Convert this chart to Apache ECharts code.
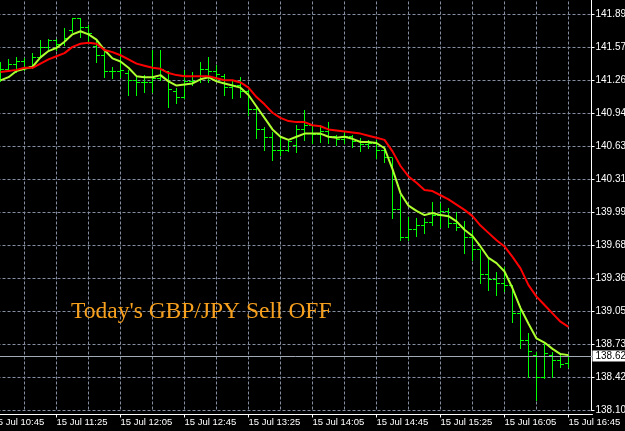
<!DOCTYPE html>
<html><head><meta charset="utf-8">
<style>html,body{margin:0;padding:0;background:#000;}#c{width:625px;height:431px;}</style>
<script src="https://cdn.jsdelivr.net/npm/echarts@6/dist/echarts.min.js"></script>
</head><body><div id="c"></div>
<script>
// ---------- data ----------
const dateLabel = '15 Jul';
const times = ['10:45','10:50','10:55','11:00','11:05','11:10','11:15','11:20','11:25','11:30','11:35','11:40','11:45','11:50','11:55',
'12:00','12:05','12:10','12:15','12:20','12:25','12:30','12:35','12:40','12:45','12:50','12:55',
'13:00','13:05','13:10','13:15','13:20','13:25','13:30','13:35','13:40','13:45','13:50','13:55',
'14:00','14:05','14:10','14:15','14:20','14:25','14:30','14:35','14:40','14:45','14:50','14:55',
'15:00','15:05','15:10','15:15','15:20','15:25','15:30','15:35','15:40','15:45','15:50','15:55',
'16:00','16:05','16:10','16:15','16:20','16:25','16:30','16:35','16:40','16:45','16:50','16:55','17:00'];
const firstBarTime = '10:50';

const open = [141.28,141.36,141.41,141.44,141.39,141.48,141.57,141.64,141.61,141.74,
141.85,141.77,141.58,141.50,141.34,141.34,141.33,141.26,141.24,141.24,
141.28,141.34,141.15,141.10,141.25,141.26,141.36,141.34,141.30,141.19,
141.21,141.15,140.98,140.79,140.71,140.59,140.59,140.64,140.79,140.83,
140.74,140.77,140.72,140.69,140.72,140.67,140.65,140.66,140.59,140.52,
140.02,139.76,139.83,139.87,139.90,139.97,140.00,139.89,139.85,139.76,
139.64,139.40,139.35,139.32,139.30,139.03,138.77,138.63,138.42,138.63,
138.58,138.55];
const high = [141.44,141.46,141.48,141.47,141.52,141.65,141.66,141.66,141.76,141.86,
141.86,141.79,141.65,141.55,141.39,141.57,141.36,141.29,141.31,141.55,
141.55,141.35,141.19,141.36,141.34,141.44,141.48,141.41,141.32,141.26,
141.29,141.17,141.01,140.81,140.77,140.72,140.69,140.83,140.98,140.83,
140.83,140.86,140.74,140.77,140.74,140.71,140.69,140.69,140.62,140.52,
140.16,139.95,139.94,139.94,140.10,140.09,140.04,140.00,139.91,139.83,
139.64,139.56,139.43,139.47,139.30,139.10,138.84,138.66,138.75,138.66,
138.63,138.63];
const low = [141.25,141.35,141.34,141.36,141.38,141.48,141.55,141.55,141.60,141.72,
141.67,141.63,141.44,141.29,141.28,141.29,141.12,141.12,141.15,141.15,
141.26,141.00,141.04,141.09,141.22,141.24,141.24,141.26,141.12,141.09,
141.10,140.93,140.71,140.59,140.50,140.55,140.58,140.57,140.69,140.66,
140.67,140.66,140.64,140.66,140.62,140.58,140.61,140.52,140.48,139.94,
139.73,139.73,139.77,139.80,139.88,139.86,139.86,139.83,139.61,139.54,
139.32,139.25,139.21,139.24,138.95,138.70,138.42,138.20,138.41,138.42,
138.52,138.52];
const close = [141.36,141.41,141.44,141.38,141.48,141.57,141.64,141.60,141.66,141.85,
141.77,141.71,141.50,141.34,141.34,141.35,141.26,141.24,141.24,141.28,
141.36,141.17,141.10,141.25,141.25,141.36,141.34,141.32,141.19,141.21,
141.15,140.98,140.79,140.71,140.59,140.59,140.67,140.79,140.83,140.74,
140.77,140.72,140.69,140.72,140.67,140.65,140.66,140.59,140.52,140.02,
139.76,139.83,139.87,139.90,139.97,140.00,139.89,139.85,139.76,139.64,
139.40,139.35,139.32,139.30,139.03,138.77,138.66,138.42,138.65,138.58,
138.54,138.62];
const maFast = [141.26,141.29,141.35,141.37,141.39,141.48,141.54,141.57,141.63,141.70,
141.73,141.70,141.65,141.55,141.47,141.44,141.38,141.30,141.29,141.29,
141.31,141.25,141.21,141.22,141.23,141.27,141.29,141.25,141.23,141.21,
141.19,141.12,141.01,140.90,140.79,140.72,140.69,140.72,140.75,140.75,
140.75,140.72,140.71,140.72,140.70,140.67,140.67,140.66,140.61,140.41,
140.18,140.06,140.01,139.97,139.99,139.97,139.96,139.91,139.83,139.77,
139.67,139.56,139.51,139.43,139.27,139.08,138.93,138.79,138.75,138.69,
138.64,138.63];
const maSlow = [141.34,141.35,141.36,141.38,141.38,141.42,141.46,141.49,141.52,141.58,
141.61,141.62,141.61,141.55,141.53,141.50,141.46,141.42,141.40,141.38,
141.37,141.33,141.31,141.30,141.30,141.30,141.30,141.28,141.26,141.26,
141.24,141.19,141.10,141.03,140.95,140.90,140.87,140.86,140.86,140.83,
140.82,140.79,140.78,140.77,140.76,140.75,140.73,140.71,140.69,140.58,
140.44,140.34,140.28,140.21,140.20,140.16,140.12,140.07,140.02,139.96,
139.87,139.80,139.73,139.67,139.57,139.46,139.30,139.19,139.11,139.03,
138.95,138.90];
const yTickLabels = ['138.10','138.42','138.73','139.05','139.36','139.68','139.99','140.31','140.63','140.94','141.26','141.57','141.89'];
const bidPrice = 138.62;
const annotation = "Today's GBP/JPY Sell OFF";

// ---------- chart ----------
const pLo = parseFloat(yTickLabels[0]);
const pHi = parseFloat(yTickLabels[yTickLabels.length - 1]);
const step = (pHi - pLo) / (yTickLabels.length - 1);
const toU = p => (p - pLo) / step;
const off = times.indexOf(firstBarTime);

const barData = open.map((o, i) => [i + off, toU(o), toU(high[i]), toU(low[i]), toU(close[i])]);
const fastData = maFast.map((v, i) => [i + off, toU(v)]);
const slowData = maSlow.map((v, i) => [i + off, toU(v)]);

const axisFont = "'Liberation Sans',Arial,sans-serif";
const gridColor = '#8490a2';
const barColor = '#00ff00';

function crisp(v) { return Math.round(v - 0.5) + 0.5; }

function renderOHLC(params, api) {
  const x = api.value(0);
  const pO = api.coord([x, api.value(1)]);
  const pH = api.coord([x, api.value(2)]);
  const pL = api.coord([x, api.value(3)]);
  const pC = api.coord([x, api.value(4)]);
  const cx = crisp(pH[0]);
  const st = { stroke: barColor, lineWidth: 1 };
  return {
    type: 'group',
    children: [
      { type: 'line', shape: { x1: cx, y1: Math.round(pH[1]), x2: cx, y2: Math.round(pL[1]) + 1 }, style: st },
      { type: 'line', shape: { x1: cx - 3.5, y1: crisp(pO[1]), x2: cx, y2: crisp(pO[1]) }, style: st },
      { type: 'line', shape: { x1: cx, y1: crisp(pC[1]), x2: cx + 3.5, y2: crisp(pC[1]) }, style: st }
    ]
  };
}

const chart = echarts.init(document.getElementById('c'), null, { renderer: 'canvas' });
chart.setOption({
  backgroundColor: '#000',
  animation: false,
  grid: { left: -7.5, right: 32.5, top: -18.5, bottom: 20.5, containLabel: false, outerBoundsMode: 'none' },
  xAxis: {
    type: 'category', data: times, boundaryGap: false, position: 'bottom', offset: 4,
    axisLine: { show: true, onZero: false, lineStyle: { color: '#ffffff', width: 1 } },
    axisTick: { show: true, interval: 7, length: 3, lineStyle: { color: '#ffffff' } },
    axisLabel: { interval: 7, align: 'left', color: '#ffffff', margin: 3, fontSize: 9.5, fontFamily: axisFont,
      formatter: t => dateLabel + ' ' + t },
    splitLine: { show: true, interval: 3, lineStyle: { color: gridColor, width: 1, type: [3, 2] } }
  },
  yAxis: {
    type: 'value', position: 'right', min: 0, max: 13, interval: 1, offset: -1, scale: false,
    axisLine: { show: true, lineStyle: { color: '#ffffff', width: 1 } },
    axisTick: { show: true, length: 3, lineStyle: { color: '#ffffff' } },
    axisLabel: { color: '#ffffff', margin: 4, fontSize: 10, fontFamily: axisFont,
      formatter: v => yTickLabels[Math.round(v)] || '' },
    splitLine: { show: true, lineStyle: { color: gridColor, width: 1, type: [3, 2] } }
  },
  series: [
    {
      type: 'custom', name: 'GBPJPY', renderItem: renderOHLC, data: barData,
      encode: { x: 0, y: [1, 2, 3, 4] }, z: 3,
      markLine: {
        silent: true, symbol: ['none', 'none'], animation: false,
        data: [{ yAxis: toU(bidPrice) }],
        lineStyle: { color: '#a3abb5', width: 1, type: 'solid' },
        label: { show: true, position: 'end', distance: 0, formatter: bidPrice.toFixed(2),
          color: '#000', backgroundColor: '#ffffff', padding: [1, 3, 0, 3], lineHeight: 10,
          fontSize: 10, fontFamily: axisFont }
      }
    },
    { type: 'line', name: 'MA fast', data: fastData, showSymbol: false, z: 4,
      lineStyle: { color: '#adff2f', width: 2 }, itemStyle: { color: '#adff2f' } },
    { type: 'line', name: 'MA slow', data: slowData, showSymbol: false, z: 5,
      lineStyle: { color: '#ff0000', width: 2 }, itemStyle: { color: '#ff0000' } }
  ],
  graphic: [{
    type: 'text', left: 71, top: 300, z: 10,
    style: { text: annotation, fill: '#f7a01e', font: '23.5px "Liberation Serif", "Times New Roman", serif' }
  }]
});
</script></body></html>
